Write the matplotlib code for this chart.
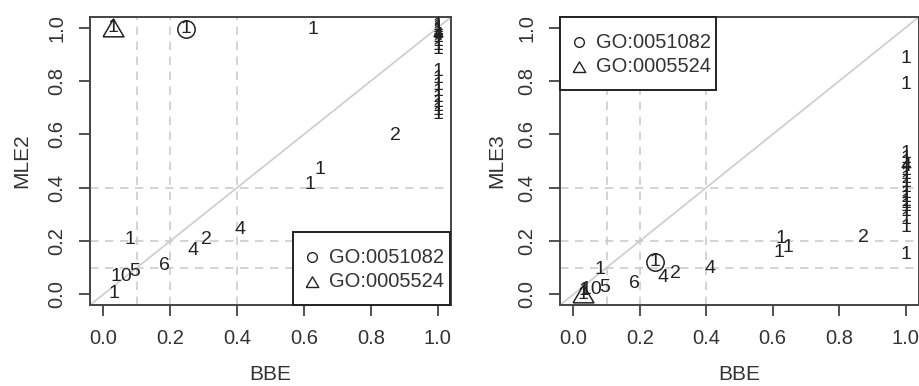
import matplotlib
matplotlib.use('Agg')
import matplotlib.pyplot as plt
from matplotlib.patches import Rectangle

plt.rcParams['font.family'] = ['Liberation Sans', 'DejaVu Sans']

# one entry per plotted label: BBE estimate, MLE2 / MLE3 estimate, and how many terms sit there
bbe = [0.03, 0.246, 0.626, 0.647, 0.618, 0.874, 0.41, 0.307, 0.269, 0.184, 0.094, 0.053, 0.079, 0.033,
       1.0, 1.0, 1.0, 1.0, 1.0, 1.0, 1.0, 1.0, 1.0, 1.0, 1.0,
       1.0, 1.0, 1.0, 1.0, 1.0, 1.0, 1.0, 1.0, 1.0]
mle2 = [1.0, 0.996, 0.995, 0.47, 0.411, 0.595, 0.244, 0.204, 0.164, 0.108, 0.085, 0.066, 0.207, 0.004,
        1.01, 1.0, 0.995, 0.99, 0.985, 0.978, 0.97, 0.962, 0.95, 0.935, 0.92,
        0.835, 0.81, 0.785, 0.76, 0.74, 0.72, 0.705, 0.69, 0.675]
mle3 = [0.0, 0.123, 0.21, 0.177, 0.158, 0.214, 0.098, 0.079, 0.064, 0.041, 0.026, 0.019, 0.094, 0.015,
        0.883, 0.787, 0.148, 0.53, 0.51, 0.495, 0.48, 0.465, 0.45, 0.435, 0.42,
        0.40, 0.38, 0.365, 0.35, 0.34, 0.33, 0.31, 0.28, 0.25]
counts = ['1', '1', '1', '1', '1', '2', '4', '2', '4', '6', '5', '10', '1', '1',
          '1', '1', '1', '1', '1', '1', '4', '1', '1', '1', '1',
          '1', '1', '1', '1', '1', '1', '1', '1', '1']

# the two GO terms marked with a symbol
go_ids = ['GO:0051082', 'GO:0005524']
go_bbe = [0.246, 0.03]
go_mle2 = [0.996, 1.0]
go_mle3 = [0.123, 0.0]

tri = [(-1, -0.8), (1, -0.8), (0, 0.9), (-1, -0.8)]
ink = '#222222'
grey = '#cccccc'
W, H = 361.0, 288.0  # axes size in pixels, used for the hand drawn legend


def legend_box(ax, x0, y0):
    # R style legend: box 157 x 73 px, lower left corner at axes fraction (x0, y0)
    ax.add_patch(Rectangle((x0, y0), 157 / W, 73 / H, transform=ax.transAxes, fill=True,
                           fc='white', ec='#222222', lw=1.4, zorder=5, clip_on=False))
    for i, (name, m, ms) in enumerate(zip(go_ids, ['o', tri], [7, 9])):
        yy = y0 + (73 - 25 - 24.5 * i) / H
        ax.plot(x0 + 19 / W, yy, marker=m, ls='none', ms=ms, mfc='none', mec=ink, mew=1.0,
                transform=ax.transAxes, zorder=6, clip_on=False)
        ax.text(x0 + 36 / W, yy, name, transform=ax.transAxes, ha='left', va='center',
                fontsize=14.5, color='#333333', zorder=6)


def panel(ax, yvals, go_y, ylabel):
    ax.set_xlim(-0.04, 1.04)
    ax.set_ylim(-0.04, 1.04)
    for v in [0.1, 0.2, 0.4]:
        ax.axvline(v, color=grey, lw=1.2, dashes=(5, 4), zorder=1)
        ax.axhline(v, color=grey, lw=1.2, dashes=(5, 4), zorder=1)
    ax.axline((0, 0), (1, 1), color=grey, lw=1.2, zorder=1)

    for x, y, c in zip(bbe, yvals, counts):
        ax.text(x, y, c, ha='center', va='center', fontsize=14, color=ink, zorder=3)

    ax.plot(go_bbe[0], go_y[0], marker='o', ls='none', ms=12.5, mfc='none', mec=ink, mew=1.1, zorder=3)
    ax.plot(go_bbe[1], go_y[1], marker=tri, ls='none', ms=15, mfc='none', mec=ink, mew=1.1, zorder=3)

    ticks = [0.0, 0.2, 0.4, 0.6, 0.8, 1.0]
    ax.set_xticks(ticks)
    ax.set_yticks(ticks)
    ax.set_xticklabels([f'{t:.1f}' for t in ticks])
    ax.set_yticklabels([f'{t:.1f}' for t in ticks], rotation=90, va='center')
    ax.tick_params(length=8, width=1.2, color='#333333', labelcolor='#333333', labelsize=14.5, pad=9)
    for s in ax.spines.values():
        s.set_color('#444444')
        s.set_linewidth(1.4)

    ax.set_xlabel('BBE', fontsize=15, color='#333333', va='center')
    ax.set_ylabel(ylabel, fontsize=15, color='#333333', va='center')


fig = plt.figure(figsize=(9.2, 3.86), dpi=100)
ax1 = fig.add_axes([0.0978, 0.2098, 0.3924, 0.746])
ax2 = fig.add_axes([0.6087, 0.2098, 0.390, 0.746])

panel(ax1, mle2, go_mle2, 'MLE2')
panel(ax2, mle3, go_mle3, 'MLE3')
legend_box(ax1, 1 - 158 / W, 0)
legend_box(ax2, 0, 1 - 73 / H)

ax1.xaxis.set_label_coords(0.5, -0.243)
ax2.xaxis.set_label_coords(0.5, -0.243)
ax1.yaxis.set_label_coords(-0.188, 0.5)
ax2.yaxis.set_label_coords(-0.175, 0.5)

fig.savefig('out.png', dpi=100)
